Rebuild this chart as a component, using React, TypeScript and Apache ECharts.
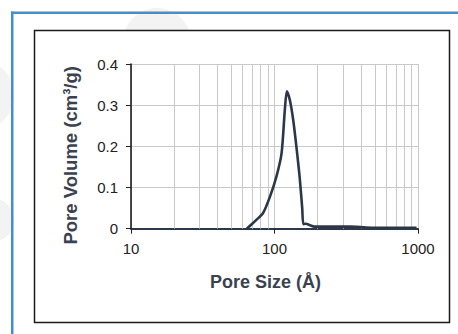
import React, { useEffect, useRef } from "react";
import * as echarts from "echarts";

const poreSize = [64, 70, 76, 83, 93, 103, 112, 118, 122, 128, 135, 143, 150, 156, 159, 166, 175, 190, 250, 336, 436, 600, 977];
const poreVolume = [0, 0.012, 0.024, 0.037, 0.078, 0.126, 0.183, 0.288, 0.334, 0.312, 0.264, 0.191, 0.122, 0.05, 0.011, 0.012, 0.009, 0.005, 0.005, 0.005, 0.003, 0.002, 0.002];
const minorGridX = [20, 30, 40, 50, 60, 70, 80, 90, 200, 300, 400, 500, 600, 700, 800, 900];
const yTicks = { min: 0, max: 0.4, interval: 0.1 };
const xRange = { min: 10, max: 1000 };

export default function App() {
  const ref = useRef<HTMLDivElement>(null);
  useEffect(() => {
    if (!ref.current) return;
    const chart = echarts.init(ref.current, undefined, { renderer: "svg" });
    const gridColor = "#c9c9c9";
    chart.setOption({
      animation: false,
      backgroundColor: "#ffffff",
      graphic: [
        { type: "circle", z: -20, shape: { cx: 157, cy: 42, r: 34 }, style: { fill: "#f3f3f3" } },
        { type: "circle", z: -20, shape: { cx: -22, cy: 95, r: 36 }, style: { fill: "#f3f3f3" } },
        { type: "circle", z: -20, shape: { cx: -8, cy: 220, r: 22 }, style: { fill: "#f3f3f3" } },
        { type: "rect", z: -15, shape: { x: 11, y: 11.5, width: 447, height: 2.5 }, style: { fill: "#3f8fd2" } },
        { type: "rect", z: -15, shape: { x: 11, y: 11.5, width: 2.5, height: 323 }, style: { fill: "#3f8fd2" } },
        { type: "rect", z: -10, shape: { x: 34.5, y: 30.5, width: 415, height: 292 }, style: { fill: "#ffffff", stroke: "#1a1a1a", lineWidth: 1.5 } },
      ],
      grid: { left: 131, right: 40, top: 64, bottom: 105.3, containLabel: false },
      xAxis: {
        type: "log",
        logBase: 10,
        min: xRange.min,
        max: xRange.max,
        name: "Pore Size (Å)",
        nameLocation: "middle",
        nameGap: 44,
        nameTextStyle: { fontFamily: "Liberation Sans, Arial", fontWeight: "bold", fontSize: 18, color: "#3a4250", padding: [0, 18, 0, 0] },
        axisLine: { show: true, lineStyle: { color: "#2f3848", width: 2 } },
        axisTick: { show: true, length: 5, lineStyle: { color: "#222", width: 1 } },
        axisLabel: { margin: 12, fontFamily: "Liberation Sans, Arial", fontSize: 15, color: "#222", formatter: (v: number) => String(Math.round(v)) },
        splitLine: { show: true, lineStyle: { color: gridColor, width: 1 } },
        minorTick: { show: false },
      },
      yAxis: {
        type: "value",
        min: yTicks.min,
        max: yTicks.max,
        interval: yTicks.interval,
        name: "Pore Volume (cm³/g)",
        nameLocation: "middle",
        nameRotate: 90,
        nameGap: 51,
        nameTextStyle: { fontFamily: "Liberation Sans, Arial", fontWeight: "bold", fontSize: 18.5, color: "#3a4250", padding: [0, 18, 0, 0] },
        axisLine: { show: true, lineStyle: { color: "#111", width: 1.5 } },
        axisTick: { show: true, length: 5, lineStyle: { color: "#222", width: 1 } },
        axisLabel: { margin: 13, fontFamily: "Liberation Sans, Arial", fontSize: 15, color: "#222" },
        splitLine: { show: true, lineStyle: { color: gridColor, width: 1 } },
      },
      series: [
        {
          type: "line",
          data: [[xRange.min, 0]],
          showSymbol: false,
          lineStyle: { opacity: 0 },
          silent: true,
          z: 1,
          markLine: {
            silent: true,
            symbol: ["none", "none"],
            label: { show: false },
            lineStyle: { color: gridColor, width: 1, type: "solid" },
            data: minorGridX.map((v) => ({ xAxis: v })),
          },
        },
        {
          type: "line",
          data: poreSize.map((x, i) => [x, poreVolume[i]]),
          showSymbol: false,
          smooth: 0.25,
          z: 5,
          lineStyle: { color: "#2b3749", width: 2.6 },
        },
      ],
    });
    return () => chart.dispose();
  }, []);
  return <div ref={ref} style={{ position: "fixed", left: 0, top: 0, width: 458, height: 334 }} />;
}
